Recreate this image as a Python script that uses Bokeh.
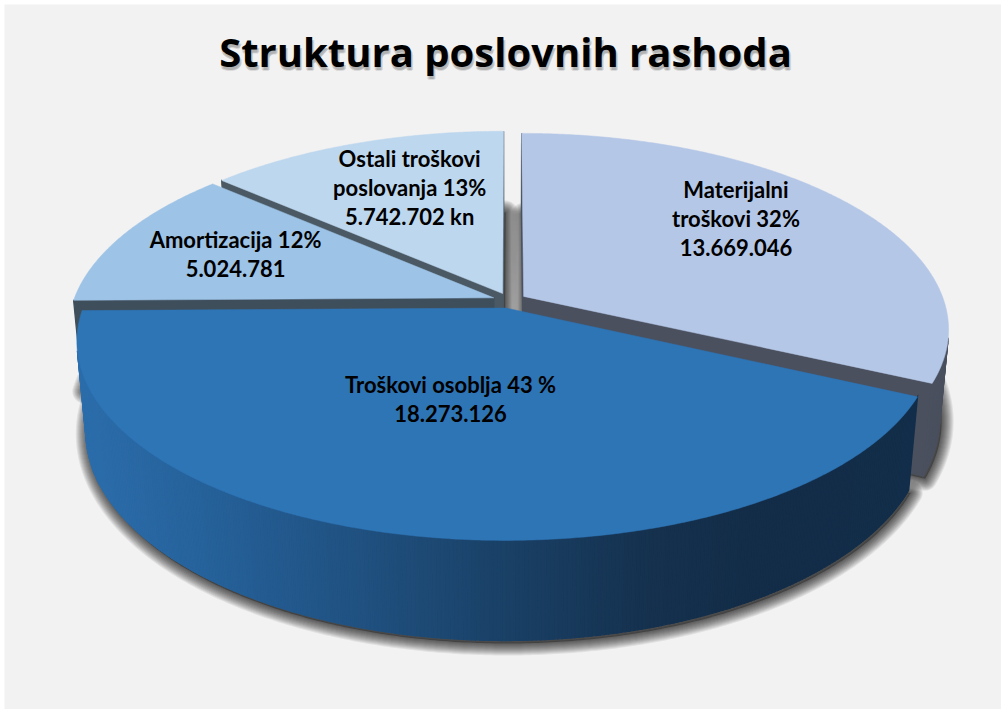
import numpy as np
from bokeh.plotting import figure
from bokeh.models import Range1d
from bokeh.core.properties import value
from bokeh.embed import file_html
from bokeh.resources import INLINE

# ---------------- data ----------------
categories = ["Materijalni troškovi", "Troškovi osoblja", "Amortizacija", "Ostali troškovi poslovanja"]
values = [13669046, 18273126, 5024781, 5742702]
label_lines = [
    ["Materijalni", "troškovi 32%", "13.669.046"],
    ["Troškovi osoblja 43 %", "18.273.126"],
    ["Amortizacija 12%", "5.024.781"],
    ["Ostali troškovi", "poslovanja 13%", "5.742.702 kn"],
]
title_text = "Struktura poslovnih rashoda"

# ---------------- styles ----------------
top_colors = ["#b4c7e7", "#2e75b6", "#9dc3e6", "#bdd7ee"]
face_colors = ["#4a505e", "#1d4a77", "#3f4e5b", "#4a5963"]
grad_x = [75, 200, 350, 500, 650, 750, 950]
grad_rgb = [(44, 110, 172), (38, 98, 155), (32, 82, 130), (26, 65, 103),
            (21, 49, 78), (19, 45, 72), (19, 46, 74)]
gradient_slice = 1

# ---------------- layout (pie model) ----------------
W, HGT = 1001, 709
CX, CY = 509.0, 300.0
F = 2265.0
DIST = 5.39
ELEV = np.radians(27.07)
S, C = np.sin(ELEV), np.cos(ELEV)
H = 0.24
EXPLODE = 0.04
SH_DX, SH_DY = 2.0, 3.0
label_angle = [51.5, 195.3, 290.3, 338.1]
label_r = [0.741, 0.49, 0.724, 0.706]
LINE_H = 29.0
LABEL_SIZE = 22
TITLE_X, TITLE_Y = 505, 51


def proj(X, Y, Z):
    X = np.asarray(X, float); Y = np.asarray(Y, float); Z = np.asarray(Z, float)
    depth = DIST + Y * C - Z * S
    return CX + F * X / depth, CY - F * (Y * S + Z * C) / depth


def visible(px, py, nx, ny):
    return px * nx + (py + DIST * C) * ny < 0


def grad_color(x):
    r = np.interp(x, grad_x, [g[0] for g in grad_rgb])
    g = np.interp(x, grad_x, [g[1] for g in grad_rgb])
    b = np.interp(x, grad_x, [g[2] for g in grad_rgb])
    return "#%02x%02x%02x" % (int(round(r)), int(round(g)), int(round(b)))


total = float(sum(values))
fr = np.array(values) / total
bounds = np.concatenate([[0.0], np.cumsum(fr)]) * 2 * np.pi

p = figure(width=W, height=HGT, x_range=Range1d(4, W), y_range=Range1d(HGT, 4),
           output_backend="svg", toolbar_location=None,
           min_border_left=4, min_border_top=4, min_border_right=0, min_border_bottom=0)
p.axis.visible = False
p.grid.visible = False
p.outline_line_color = None
p.background_fill_color = "#f2f2f2"
p.border_fill_color = "white"

slices = []
for i in range(len(values)):
    t1, t2 = bounds[i], bounds[i + 1]
    tm = 0.5 * (t1 + t2)
    ex, ey = EXPLODE * np.sin(tm), EXPLODE * np.cos(tm)
    n = max(int(np.degrees(t2 - t1) * 2), 8)
    th = np.linspace(t1, t2, n)
    ax, ay = ex + np.sin(th), ey + np.cos(th)
    slices.append(dict(t1=t1, t2=t2, tm=tm, ex=ex, ey=ey, th=th, ax=ax, ay=ay))

# ---------------- shadow (bottom faces) ----------------
sh_xs, sh_ys = [], []
for sl in slices:
    X = np.concatenate([[sl["ex"]], sl["ax"]])
    Y = np.concatenate([[sl["ey"]], sl["ay"]])
    sx, sy = proj(X, Y, -H * np.ones_like(X))
    sh_xs.append(list(sx + SH_DX)); sh_ys.append(list(sy + SH_DY))
p.patches(sh_xs, sh_ys, fill_color="black", fill_alpha=0.3, line_color=None)
for k in range(1, 13):
    p.patches(sh_xs, sh_ys, fill_color=None, line_color="black", line_alpha=0.07,
              line_width=2 * k, line_join="round")

# ---------------- side faces (painter order: far first) ----------------
order = sorted(range(len(slices)), key=lambda i: -(slices[i]["ey"] + 0.5 * np.cos(slices[i]["tm"])))
for i in order:
    sl = slices[i]
    ex, ey = sl["ex"], sl["ey"]
    fx, fy, fc = [], [], []
    for t, nx, ny in [(sl["t1"], -np.cos(sl["t1"]), np.sin(sl["t1"])),
                      (sl["t2"], np.cos(sl["t2"]), -np.sin(sl["t2"]))]:
        rx, ry = ex + np.sin(t), ey + np.cos(t)
        mx, my = 0.5 * (ex + rx), 0.5 * (ey + ry)
        if visible(mx, my, nx, ny):
            X = [ex, rx, rx, ex]; Y = [ey, ry, ry, ey]; Z = [0, 0, -H, -H]
            sx, sy = proj(X, Y, Z)
            fx.append(list(sx)); fy.append(list(sy)); fc.append(face_colors[i])
    ax, ay, th = sl["ax"], sl["ay"], sl["th"]
    for j in range(len(th) - 1):
        mt = 0.5 * (th[j] + th[j + 1])
        if not visible(ex + np.sin(mt), ey + np.cos(mt), np.sin(mt), np.cos(mt)):
            continue
        X = [ax[j], ax[j + 1], ax[j + 1], ax[j]]
        Y = [ay[j], ay[j + 1], ay[j + 1], ay[j]]
        Z = [0, 0, -H, -H]
        sx, sy = proj(X, Y, Z)
        col = grad_color(sx.mean()) if i == gradient_slice else face_colors[i]
        fx.append(list(sx)); fy.append(list(sy)); fc.append(col)
    if fx:
        p.patches(fx, fy, fill_color=fc, line_color=fc, line_width=1.3, line_join="miter")

# ---------------- top faces ----------------
tx, ty = [], []
for sl in slices:
    X = np.concatenate([[sl["ex"]], sl["ax"]])
    Y = np.concatenate([[sl["ey"]], sl["ay"]])
    sx, sy = proj(X, Y, np.zeros_like(X))
    tx.append(list(sx)); ty.append(list(sy))
p.patches(tx, ty, fill_color=top_colors, line_color=top_colors, line_width=0.5)

# ---------------- labels ----------------
lx, ly, lt = [], [], []
for i, lines in enumerate(label_lines):
    a = np.radians(label_angle[i])
    bx, by = proj(label_r[i] * np.sin(a), label_r[i] * np.cos(a), 0.0)
    n = len(lines)
    for k, line in enumerate(lines):
        cyk = float(by) + (k - (n - 1) / 2.0) * LINE_H
        lx.append(float(bx)); ly.append(cyk); lt.append(line)
p.text(lx, ly, text=lt, text_font=value("Lato"), text_font_style="bold",
       text_font_size="%dpx" % LABEL_SIZE, text_color="black",
       text_align="center", text_baseline="alphabetic")

# ---------------- title ----------------
for dx, dy, al in [(1, 4, 0.18), (2, 3, 0.22), (0, 3, 0.18)]:
    p.text([TITLE_X + dx], [TITLE_Y + dy], text=[title_text], text_font=value("Open Sans"),
           text_font_style="bold", text_font_size="40px", text_color="#606060", text_alpha=al,
           text_align="center", text_baseline="alphabetic")
p.text([TITLE_X], [TITLE_Y], text=[title_text], text_font=value("Open Sans"), text_font_style="bold",
       text_font_size="40px", text_color="black",
       text_align="center", text_baseline="alphabetic")

open("out.html", "w").write(file_html(p, INLINE))
